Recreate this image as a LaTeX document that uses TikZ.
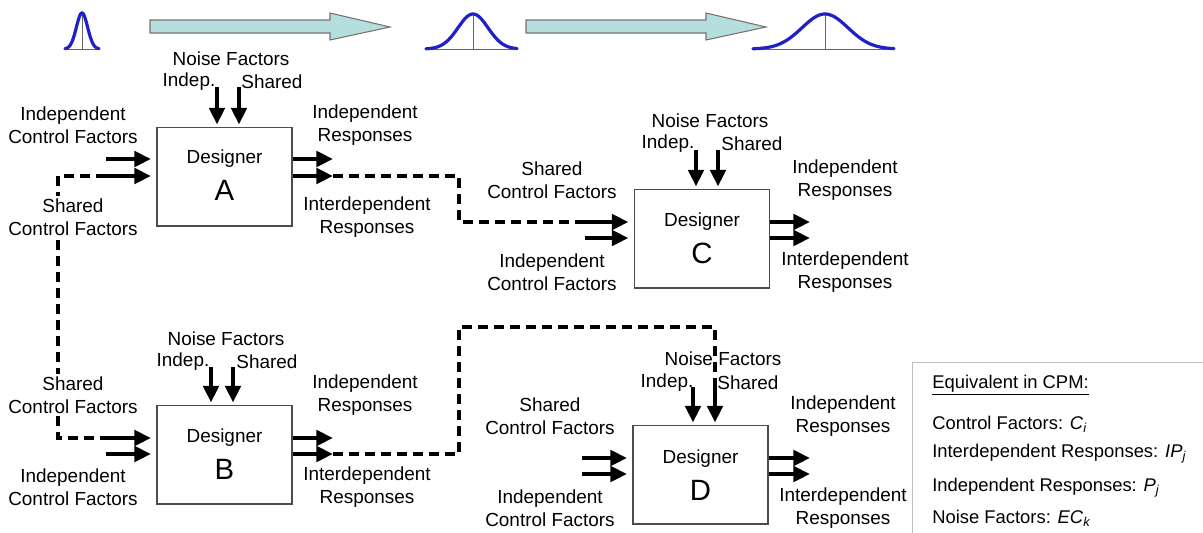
\documentclass[tikz,border=0pt]{standalone}
\usepackage{fontspec}
\setmainfont{Liberation Sans}
\usetikzlibrary{arrows.meta}
\definecolor{gblue}{HTML}{2020C8}
\definecolor{acyan}{HTML}{B7DEDF}
\begin{document}
\begin{tikzpicture}[x=0.75pt,y=-0.75pt,
  lbl/.style={font=\fontsize{14.2}{16.9}\selectfont, align=center, inner sep=0pt},
  wlbl/.style={lbl, fill=white, inner sep=2pt},
  big/.style={font=\fontsize{22}{24}\selectfont, inner sep=0pt},
  dbox/.style={draw=black!70, line width=1pt, minimum width=101.25pt, minimum height=74pt, inner sep=0pt},
  arr/.style={line width=2.9pt, -{Triangle[length=12.5pt,width=11.5pt]}},
  dsh/.style={line width=2.7pt, dash pattern=on 7.5pt off 4.5pt},
  gcurve/.style={draw=gblue, line width=2.4pt, line cap=round},
  gaxis/.style={draw=black!60, line width=0.6pt},
  bigarrow/.style={draw=black!55, line width=0.8pt, fill=acyan},
  legtxt/.style={font=\fontsize{13.8}{16}\selectfont, anchor=west, inner sep=0pt},
]
\useasboundingbox (0,0) rectangle (1203,532);

% ---------- top distributions ----------
\draw[gaxis] (65,49) -- (99,49);
\draw[gaxis] (82,13) -- (82,49);
\draw[gcurve] plot[domain=-17:17, samples=60, smooth] ({82+\x},{49-36*exp(-(\x/5.6)^2/2)});

\draw[bigarrow] (150,20) -- (330,20) -- (330,13) -- (390,27) -- (330,40) -- (330,33) -- (150,33) -- cycle;

\draw[gaxis] (425,49) -- (518,49);
\draw[gaxis] (473,14) -- (473,49);
\draw[gcurve] plot[domain=-47:44, samples=80, smooth] ({473+\x},{49-35*exp(-(\x/15)^2/2)});

\draw[bigarrow] (526,20) -- (706,20) -- (706,13) -- (766,27) -- (706,40) -- (706,33) -- (526,33) -- cycle;

\draw[gaxis] (752,49) -- (894,49);
\draw[gaxis] (825,14) -- (825,49);
\draw[gcurve] plot[domain=-72:69, samples=100, smooth] ({825+\x},{49-35*exp(-(\x/23)^2/2)});

% ---------- boxes ----------
\node[dbox] (A) at (224.5,176.5) {};
\node[dbox] (B) at (224.5,454.5) {};
\node[dbox] (C) at (702,238.5) {};
\node[dbox] (D) at (700.5,474.5) {};

\node[lbl] (At) at (224.5,159) {Designer};
\node[big] (AL) at (224.5,190) {A};
\node[lbl] (Bt) at (224.5,438) {Designer};
\node[big] (BL) at (224.5,469) {B};
\node[lbl] (Ct) at (702,222) {Designer};
\node[big] (CL) at (702,253) {C};
\node[lbl] (Dt) at (700.5,459) {Designer};
\node[big] (DL) at (700.5,490) {D};

% ---------- shared control dashed (left) ----------
\coordinate (Ai1) at (106,159);
\coordinate (Ai2) at (106,176);
\coordinate (Bi1) at (106,438);
\coordinate (Bi2) at (106,454);
\draw[dsh] (Ai2) -- (58,176) -- (58,438) -- (Bi1);

% ---------- labels ----------
% A
\node[lbl] (AnF) at (231,59) {Noise Factors};
\node[lbl] (AnI) at (189,82) {Indep.};
\node[lbl] (AnS) at (272,82) {Shared};
\node[lbl] (AiC) at (73,125) {Independent\\Control Factors};
\node[wlbl] (AsC) at (73,217) {Shared\\Control Factors};
\node[lbl] (AiR) at (365,125) {Independent\\Responses};
\node[lbl] (AdR) at (367,217) {Interdependent\\Responses};
% B
\node[lbl] (BnF) at (226,339) {Noise Factors};
\node[lbl] (BnI) at (183,362) {Indep.};
\node[lbl] (BnS) at (267,362) {Shared};
\node[wlbl] (BsC) at (73,395) {Shared\\Control Factors};
\node[lbl] (BiC) at (73,487) {Independent\\Control Factors};
\node[lbl] (BiR) at (365,395) {Independent\\Responses};
\node[lbl] (BdR) at (367,487) {Interdependent\\Responses};
% C
\node[lbl] (CnF) at (710,121) {Noise Factors};
\node[lbl] (CnI) at (668,144) {Indep.};
\node[lbl] (CnS) at (752,144) {Shared};
\node[lbl] (CsC) at (552,180) {Shared\\Control Factors};
\node[lbl] (CiC) at (552,272) {Independent\\Control Factors};
\node[lbl] (CiR) at (845,180) {Independent\\Responses};
\node[lbl] (CdR) at (845,272) {Interdependent\\Responses};
% D
\node[lbl] (DnF) at (723,359) {Noise Factors};
\node[lbl] (DnI) at (667,383) {Indep.};
\node[lbl] (DnS) at (748,383) {Shared};
\node[lbl] (DsC) at (550,416) {Shared\\Control Factors};
\node[lbl] (DiC) at (550,508) {Independent\\Control Factors};
\node[lbl] (DiR) at (843,416) {Independent\\Responses};
\node[lbl] (DdR) at (843,508) {Interdependent\\Responses};

% ---------- coordinates for arrows ----------
\coordinate (An1) at (217,87);
\coordinate (An2) at (239,87);
\coordinate (Ao1) at (333,159);
\coordinate (Ao2) at (333,176);
\coordinate (Bn1) at (211,367);
\coordinate (Bn2) at (233,367);
\coordinate (Bo1) at (333,438);
\coordinate (Bo2) at (333,454);
\coordinate (Cn1) at (696,150);
\coordinate (Cn2) at (718,150);
\coordinate (Ci1) at (585,222);
\coordinate (Ci2) at (585,238);
\coordinate (Co1) at (810,222);
\coordinate (Co2) at (810,238);
\coordinate (Dn1) at (693,387);
\coordinate (Dn2) at (715,387);
\coordinate (Di1) at (582,458);
\coordinate (Di2) at (582,474);
\coordinate (Do1) at (810,458);
\coordinate (Do2) at (810,474);

% ---------- dashed interdependency links ----------
\draw[dsh] (Ao2) -- (459,176) -- (459,222) -- (Ci1);
\draw[dsh] (Bo2) -- (459,454) -- (459,327) -- (715,327) -- (Dn2);

% ---------- solid arrows ----------
\foreach \b in {A,B,C,D}{
  \draw[arr, shorten >=1.5pt] (\b n1) -- (\b n1 |- \b.north);
  \draw[arr, shorten >=1.5pt] (\b n2) -- (\b n2 |- \b.north);
  \draw[arr, shorten >=4pt] (\b i1) -- (\b i1 -| \b.west);
  \draw[arr, shorten >=4pt] (\b i2) -- (\b i2 -| \b.west);
  \draw[arr] (\b o1 -| \b.east) -- (\b o1);
  \draw[arr] (\b o2 -| \b.east) -- (\b o2);
}

% ---------- legend ----------
\node[draw=black!25, line width=0.8pt, anchor=north west, minimum width=222pt, minimum height=130pt, inner sep=0pt] (leg) at (912,362) {};
\node[legtxt] (L0) at (932,385) {\underline{Equivalent in CPM:}};
\node[legtxt] (L1) at (932,424) {Control Factors: \textit{C}\textsubscript{\textit{i}}};
\node[legtxt] (L2) at (932,454) {Interdependent Responses: \textit{IP}\textsubscript{\textit{j}}};
\node[legtxt] (L3) at (932,488) {Independent Responses: \textit{P}\textsubscript{\textit{j}}};
\node[legtxt] (L4) at (932,518) {Noise Factors: \textit{EC}\textsubscript{\textit{k}}};
\end{tikzpicture}
\end{document}
